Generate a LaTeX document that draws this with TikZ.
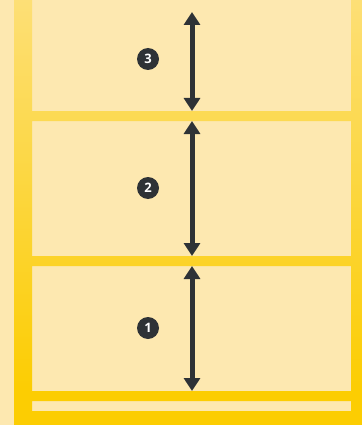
\documentclass[tikz,border=0pt]{standalone}
\usepackage{fontspec}
\setsansfont{Open Sans}
\usetikzlibrary{arrows.meta, positioning}
\usepackage{xcolor}
\definecolor{paper}{HTML}{FDE8B0}
\definecolor{gold}{HTML}{FCCD02}
\definecolor{ink}{HTML}{2E3236}
\pgfdeclareverticalshading{rackshade}{100bp}{color(0bp)=(gold); color(29bp)=(gold); color(98bp)=(paper); color(100bp)=(paper)}
\tikzstyle{badge} = [circle, fill=ink, text=white, inner sep=0pt, minimum size=22pt,
    font=\sffamily\bfseries\fontsize{13}{13}\selectfont]
\tikzstyle{line} = [draw=ink, line width=5pt, {Triangle[width=16pt,length=13pt]}-{Triangle[width=16pt,length=13pt]}]

\begin{document}
\begin{tikzpicture}[x=1pt, y=-1pt]
        \useasboundingbox [fill=paper] (0,0) rectangle (362,425);
        % Rack
        \shade [shading=rackshade] (14,0) rectangle (32,425)
            (351,0) rectangle (362,425)
            (32,111) rectangle (351,121)
            (32,256) rectangle (351,266)
            (32,391) rectangle (351,401)
            (14,411) rectangle (362,425);

        % Nodes
        \coordinate (top) at (192,12);
        \coordinate (s3) at (192,111);
        \coordinate (s2b) at (192,121);
        \coordinate (s2) at (192,256);
        \coordinate (s1b) at (192,266);
        \coordinate (s1) at (192,391);
        \node [badge] (n3) at (148,59) {3};
        \node [badge] (n2) at (148,188) {2};
        \node [badge] (n1) at (148,328) {1};

        % Lines
        \path [line] (top) -- (s3);
        \path [line] (s2b) -- (s2);
        \path [line] (s1b) -- (s1);
\end{tikzpicture}
\end{document}
